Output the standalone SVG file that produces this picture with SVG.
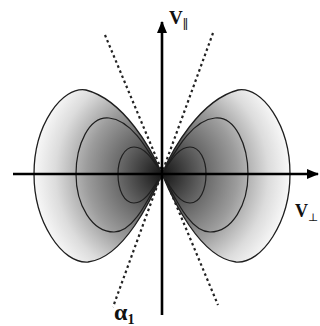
<svg xmlns="http://www.w3.org/2000/svg" width="320" height="326" viewBox="0 0 320 326">
<style>
.contour{fill:none;stroke:#1e1e1e;stroke-width:1.2}
.outer{fill:url(#shade);stroke:#1e1e1e;stroke-width:1.3}
.axis{stroke:#000;stroke-width:2.6;fill:none}
.dash{stroke:#222;stroke-width:2.2;stroke-dasharray:2.5 3;fill:none}
.lbl{font-family:"Liberation Serif","DejaVu Serif",serif;fill:#111}
</style>
<defs>
<radialGradient id="shade" gradientUnits="userSpaceOnUse" cx="162" cy="174" r="130">
<stop offset="0" stop-color="#151515"/>
<stop offset="0.12" stop-color="#333"/>
<stop offset="0.32" stop-color="#666"/>
<stop offset="0.58" stop-color="#9c9c9c"/>
<stop offset="0.82" stop-color="#dcdcdc"/>
<stop offset="1" stop-color="#fafafa"/>
</radialGradient>
<marker id="arr" markerWidth="12" markerHeight="10" refX="11" refY="5" orient="auto" markerUnits="userSpaceOnUse">
<path d="M0,0 L12,5 L0,10 Z" fill="#000"/>
</marker>
<g id="lobe">
<path d="M162,174 C172,150 200,100 238,90 C262,86 290,125 290,174 C290,222 262,264 236,262 C200,258 172,198 162,174 Z" class="outer"/>
<path d="M162,174 C172,158 190,120 215,118 C235,116 248,145 248,174 C248,205 232,232 210,232 C188,232 172,190 162,174 Z" class="contour"/>
<path d="M162,174 C170,162 178,147 190,147 C200,147 206,160 206,174 C206,190 200,203 190,203 C178,203 170,186 162,174 Z" class="contour"/>
</g>
</defs>
<g id="lobe-right"><use href="#lobe"/></g>
<g id="lobe-left"><use href="#lobe" transform="translate(324,0) scale(-1,1)"/></g>
<g id="connectors">
<line class="dash" x1="105" y1="35" x2="218" y2="305"/>
<line class="dash" x1="213" y1="33" x2="113" y2="307"/>
<line class="axis" x1="13" y1="174" x2="318" y2="174" marker-end="url(#arr)"/>
<line class="axis" x1="162" y1="315" x2="162" y2="22" marker-end="url(#arr)"/>
</g>
<g id="labels">
<text class="lbl" x="169" y="24" font-size="19" font-weight="bold">V<tspan font-size="13" font-weight="normal" dy="5">∥</tspan></text>
<text class="lbl" x="295" y="217" font-size="18" font-weight="bold">V<tspan font-size="11" font-weight="normal" dy="4">⊥</tspan></text>
<text class="lbl" x="114" y="320" font-size="24" font-weight="bold">α<tspan font-size="14" dy="4">1</tspan></text>
</g>
</svg>
